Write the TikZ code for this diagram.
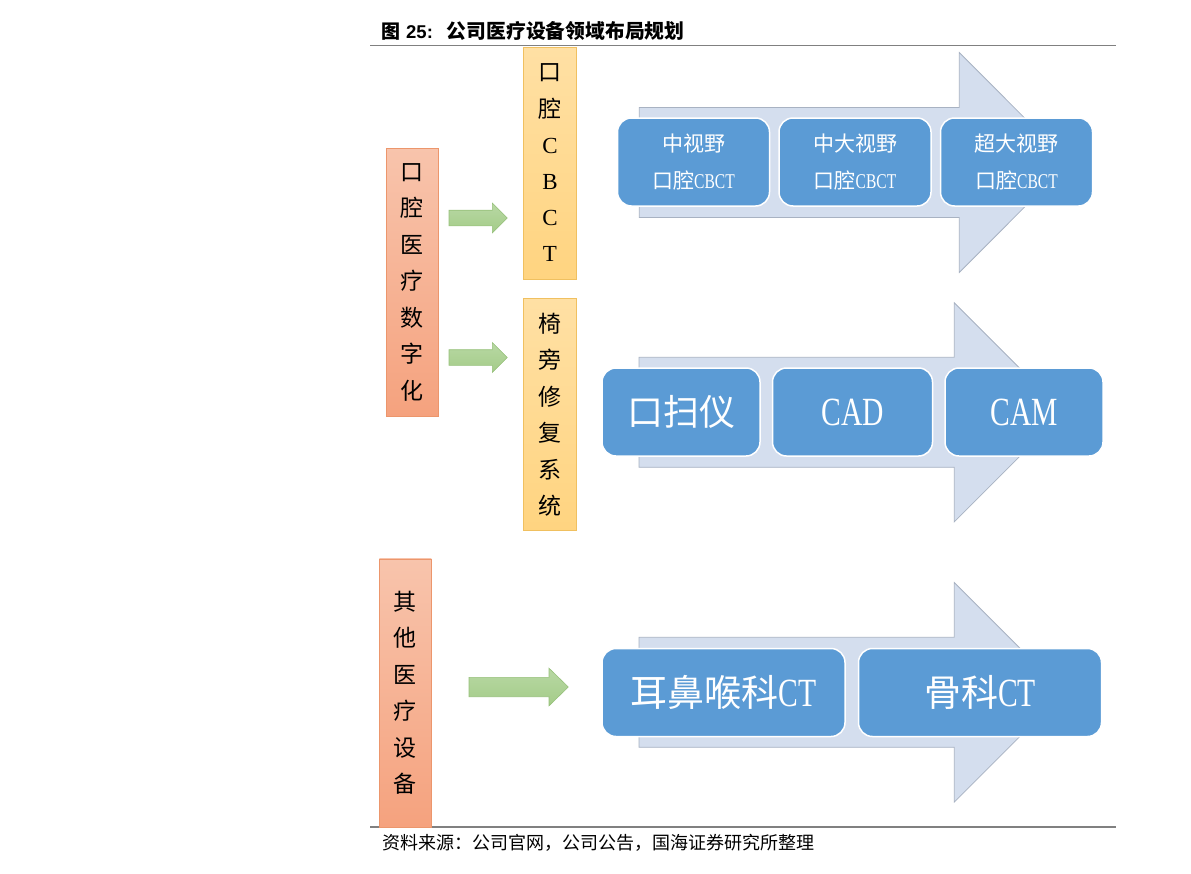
\documentclass[tikz,border=0pt]{standalone}
\usepackage{fontspec}
\setmainfont{Liberation Serif}
\newfontfamily\cjk{Noto Sans CJK SC}
\newfontfamily\narrowlat[FakeStretch=0.74]{Liberation Serif}
\newfontfamily\titlelat{Liberation Sans}
\usetikzlibrary{positioning}
\definecolor{salmontop}{RGB}{248,196,172}
\definecolor{salmonbot}{RGB}{245,162,126}
\definecolor{salmonedge}{RGB}{236,150,108}
\definecolor{goldtop}{RGB}{255,224,164}
\definecolor{goldbot}{RGB}{255,212,128}
\definecolor{goldedge}{RGB}{240,192,96}
\definecolor{greentop}{RGB}{184,216,164}
\definecolor{greenbot}{RGB}{164,204,136}
\definecolor{greenedge}{RGB}{150,192,122}
\definecolor{ribblue}{RGB}{91,155,213}
\definecolor{bandfill}{RGB}{212,222,238}
\definecolor{bandedge}{RGB}{168,178,194}
\definecolor{rulegray}{RGB}{128,128,128}
% block arrow: style, tail x, head x, tip x, mid y, shaft half, head half
\newcommand{\blockarrow}[7]{%
  \draw[#1] (#2,#5-#6) -- (#3,#5-#6) -- (#3,#5-#7) -- (#4,#5)
    -- (#3,#5+#7) -- (#3,#5+#6) -- (#2,#5+#6) -- cycle;}

\begin{document}
\begin{tikzpicture}[x=1pt,y=-1pt,
    sidebox/.style={draw=salmonedge,line width=0.6pt,top color=salmontop,bottom color=salmonbot,
      minimum width=52pt,inner sep=0pt,align=center,font={\cjk\fontsize{23}{36.5}\selectfont}},
    stagebox/.style={draw=goldedge,line width=0.6pt,top color=goldtop,bottom color=goldbot,
      minimum width=53pt,minimum height=232pt,inner sep=0pt,align=center,font={\fontsize{23}{36.2}\selectfont}},
    blockbox/.style={draw=white,line width=1.5pt,fill=ribblue,rounded corners=14pt,
      minimum height=88pt,inner sep=0pt,text=white,align=center},
    bandarrow/.style={draw=bandedge,line width=0.8pt,fill=bandfill},
    greenarrow/.style={draw=greenedge,line width=0.6pt,top color=greentop,bottom color=greenbot}]
  \useasboundingbox (0,0) rectangle (1191,873);

  % title and rules
  \node[anchor=west,inner sep=0pt] (title) at (381,31)
    {{\cjk\bfseries\fontsize{19}{19}\selectfont 图}\hspace{6pt}{\titlelat\bfseries\fontsize{18.5}{19}\selectfont 25:}\hspace{14pt}{\cjk\bfseries\fontsize{19.8}{19}\selectfont 公司医疗设备领域布局规划}};
  \draw[rulegray,line width=1.3pt] (370,45.5) -- (1116,45.5);
  \draw[rulegray,line width=1.3pt] (370,827) -- (1116,827);
  \node[anchor=west,inner sep=0pt,font={\cjk\fontsize{18}{18}\selectfont}] (source) at (382,843)
    {资料来源：公司官网，公司公告，国海证券研究所整理};

  % big background arrows
  \blockarrow{bandarrow}{639.3}{959.3}{1069}{162.5}{55}{110}
  \blockarrow{bandarrow}{639}{954.3}{1063.8}{412.3}{55}{109.5}
  \blockarrow{bandarrow}{639}{954.3}{1064}{692.3}{55}{109.7}

  % left column
  \node[sidebox,minimum height=268pt] (oral) at (412,282) {口\\腔\\医\\疗\\数\\字\\化};
  \node[sidebox,minimum height=268pt] (other) at (405.3,692.8) {其\\他\\医\\疗\\设\\备};

  % middle column
  \node[stagebox] (cbct) at (550,163) {{\cjk 口}\\{\cjk 腔}\\C\\B\\C\\T};
  \node[stagebox,font={\cjk\fontsize{23}{36.4}\selectfont}] (chair) at (550,414.7) {椅\\旁\\修\\复\\系\\统};

  % green arrows
  \blockarrow{greenarrow}{449}{492.3}{507.3}{218}{7.8}{15}
  \blockarrow{greenarrow}{449}{492.3}{507.3}{357.5}{7.8}{15}
  \blockarrow{greenarrow}{469}{549}{568.3}{687}{9.7}{18.8}

  % row 1
  \node[blockbox,minimum width=152pt,font={\fontsize{21}{37}\selectfont}] (fovmid) at (693.5,162)
    {{\cjk 中视野}\\{\cjk 口腔}{\narrowlat CBCT}};
  \node[blockbox,minimum width=152pt,font={\fontsize{21}{37}\selectfont},right=8pt of fovmid] (fovlarge)
    {{\cjk 中大视野}\\{\cjk 口腔}{\narrowlat CBCT}};
  \node[blockbox,minimum width=152pt,font={\fontsize{21}{37}\selectfont},right=8pt of fovlarge] (fovxl)
    {{\cjk 超大视野}\\{\cjk 口腔}{\narrowlat CBCT}};

  % row 2
  \node[blockbox,minimum width=158pt,font={\cjk\fontsize{36}{36}\selectfont}] (scan) at (681,412) {口扫仪};
  \node[blockbox,minimum width=160pt,font={\narrowlat\fontsize{40}{40}\selectfont},right=11pt of scan] (cad) {CAD};
  \node[blockbox,minimum width=158pt,font={\narrowlat\fontsize{40}{40}\selectfont},right=11pt of cad] (cam) {CAM};

  % row 3
  \node[blockbox,minimum width=243pt] (ent) at (723.5,692.5)
    {{\cjk\fontsize{37}{37}\selectfont 耳鼻喉科}{\narrowlat\fontsize{40}{40}\selectfont CT}};
  \node[blockbox,minimum width=243pt,right=12pt of ent] (ortho)
    {{\cjk\fontsize{37}{37}\selectfont 骨科}{\narrowlat\fontsize{40}{40}\selectfont CT}};
\end{tikzpicture}
\end{document}
